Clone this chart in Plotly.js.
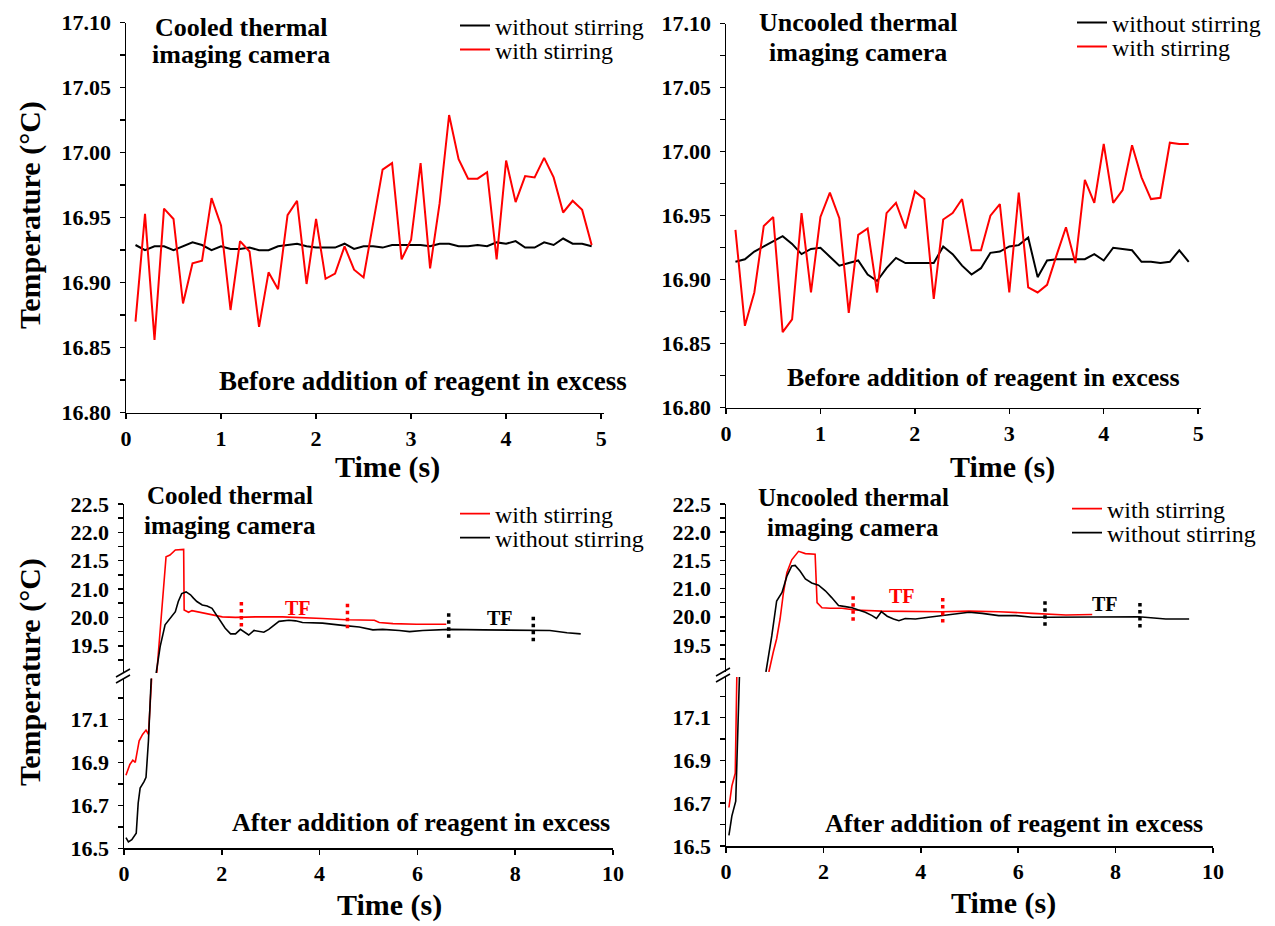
<!DOCTYPE html>
<html>
<head>
<meta charset="utf-8">
<script src="https://cdn.plot.ly/plotly-3.0.1.min.js"></script>
<style>html,body{margin:0;padding:0;background:#fff;}#chart{width:1275px;height:926px;}</style>
</head>
<body>
<div id="chart"></div>
<script>
// ---------- DATA ----------
// Before addition of reagent (time in s)
const timeBefore = [0.1,0.2,0.3,0.4,0.5,0.6,0.7,0.8,0.9,1.0,1.1,1.2,1.3,1.4,1.5,1.6,1.7,1.8,1.9,2.0,2.1,2.2,2.3,2.4,2.5,2.6,2.7,2.8,2.9,3.0,3.1,3.2,3.3,3.4,3.5,3.6,3.7,3.8,3.9,4.0,4.1,4.2,4.3,4.4,4.5,4.6,4.7,4.8,4.9];
const cooledBeforeStir = [16.870,16.953,16.856,16.957,16.949,16.884,16.915,16.917,16.965,16.944,16.879,16.932,16.924,16.866,16.908,16.895,16.952,16.963,16.899,16.949,16.903,16.907,16.928,16.910,16.904,16.947,16.987,16.992,16.918,16.933,16.992,16.911,16.961,17.029,16.995,16.980,16.980,16.985,16.918,16.994,16.962,16.982,16.981,16.996,16.981,16.954,16.963,16.956,16.929];
const cooledBeforeNoStir = [16.929,16.925,16.928,16.928,16.925,16.928,16.931,16.929,16.925,16.928,16.926,16.926,16.927,16.925,16.925,16.928,16.929,16.930,16.928,16.927,16.927,16.927,16.930,16.926,16.928,16.928,16.927,16.929,16.929,16.929,16.929,16.928,16.930,16.930,16.928,16.928,16.929,16.928,16.931,16.930,16.932,16.927,16.927,16.931,16.929,16.934,16.930,16.930,16.928];
const uncooledBeforeStir = [16.939,16.864,16.890,16.942,16.949,16.859,16.869,16.952,16.890,16.949,16.968,16.948,16.874,16.935,16.940,16.890,16.952,16.960,16.940,16.969,16.963,16.885,16.947,16.952,16.963,16.923,16.923,16.950,16.959,16.890,16.968,16.894,16.890,16.896,16.919,16.941,16.913,16.978,16.960,17.006,16.960,16.970,17.005,16.980,16.963,16.964,17.007,17.006,17.006];
const uncooledBeforeNoStir = [16.914,16.916,16.922,16.926,16.930,16.934,16.928,16.920,16.924,16.925,16.918,16.911,16.913,16.915,16.904,16.899,16.909,16.917,16.913,16.913,16.913,16.913,16.926,16.920,16.911,16.904,16.909,16.921,16.922,16.926,16.927,16.933,16.902,16.915,16.916,16.916,16.916,16.916,16.920,16.915,16.925,16.924,16.923,16.914,16.914,16.913,16.914,16.923,16.914];

// After addition of reagent in excess (values on the broken axis scale)
const cooledAfterStirT = [0.04,0.12,0.18,0.23,0.27,0.31,0.38,0.45,0.50,0.53,0.58,0.67,0.86,0.94,1.05,1.22,1.23,1.32,1.39,1.49,1.60,1.80,2.01,2.28,2.69,3.24,3.65,4.06,4.54,5.12,5.22,5.50,5.98,6.59];
const cooledAfterStirV = [16.84,16.89,16.91,16.90,16.95,17.00,17.03,17.05,17.03,17.12,17.35,19.52,21.57,21.60,21.69,21.70,20.63,20.59,20.62,20.60,20.58,20.55,20.51,20.50,20.51,20.51,20.50,20.48,20.46,20.45,20.41,20.39,20.38,20.38];
const cooledAfterNoStirT = [0.04,0.09,0.16,0.25,0.29,0.33,0.41,0.45,0.50,0.53,0.56,0.66,0.74,0.84,0.94,1.05,1.11,1.18,1.27,1.36,1.42,1.49,1.60,1.70,1.80,1.94,2.07,2.18,2.28,2.38,2.45,2.55,2.66,2.76,2.86,2.96,3.07,3.17,3.37,3.51,3.65,4.06,4.47,4.81,5.09,5.29,5.63,5.84,6.11,6.66,7.35,8.03,8.71,9.06,9.34];
const cooledAfterNoStirV = [16.55,16.53,16.54,16.57,16.71,16.78,16.81,16.83,17.00,17.29,17.45,19.53,19.99,20.37,20.49,20.60,20.78,20.92,20.95,20.90,20.84,20.78,20.72,20.70,20.66,20.49,20.31,20.21,20.21,20.29,20.25,20.19,20.27,20.25,20.24,20.29,20.37,20.43,20.45,20.44,20.41,20.40,20.36,20.33,20.28,20.29,20.27,20.25,20.27,20.29,20.28,20.27,20.27,20.23,20.21];
const uncooledAfterStirT = [0.06,0.12,0.19,0.23,0.88,0.97,1.04,1.11,1.18,1.25,1.35,1.49,1.63,1.83,1.87,1.97,2.14,2.38,2.65,3.20,3.89,4.44,4.99,5.60,6.29,6.98,7.52];
const uncooledAfterStirV = [16.68,16.78,16.84,17.40,19.52,19.87,20.11,20.46,20.93,21.28,21.51,21.66,21.62,21.61,20.75,20.66,20.65,20.65,20.62,20.60,20.59,20.59,20.60,20.59,20.56,20.53,20.54];
const uncooledAfterNoStirT = [0.06,0.12,0.20,0.26,0.29,0.82,0.94,1.04,1.15,1.25,1.35,1.42,1.52,1.63,1.76,1.90,2.04,2.17,2.31,2.45,2.59,2.72,2.86,3.00,3.09,3.19,3.31,3.44,3.55,3.68,3.89,4.16,4.44,4.71,4.99,5.26,5.60,5.95,6.29,6.63,7.32,8.00,8.48,9.03,9.51];
const uncooledAfterNoStirV = [16.55,16.64,16.71,17.25,17.40,19.52,20.16,20.78,20.93,21.22,21.40,21.41,21.31,21.17,21.10,21.06,20.96,20.84,20.70,20.68,20.66,20.62,20.58,20.52,20.47,20.59,20.51,20.46,20.43,20.47,20.46,20.49,20.52,20.56,20.58,20.56,20.52,20.52,20.49,20.49,20.49,20.49,20.50,20.46,20.46];

// Final temperature (TF) interval markers: time, lower and upper end
const tfCooledStirT = [2.40, 4.57];
const tfCooledStirLo = [20.34, 20.31];
const tfCooledStirHi = [20.78, 20.75];
const tfCooledNoStirT = [6.64, 8.37];
const tfCooledNoStirLo = [20.14, 20.08];
const tfCooledNoStirHi = [20.58, 20.52];
const tfUncooledStirT = [2.61, 4.45];
const tfUncooledStirLo = [20.43, 20.40];
const tfUncooledStirHi = [20.90, 20.87];
const tfUncooledNoStirT = [6.55, 8.50];
const tfUncooledNoStirLo = [20.34, 20.31];
const tfUncooledNoStirHi = [20.81, 20.78];

// Tick labels
const beforeTicks = [16.80, 16.85, 16.90, 16.95, 17.00, 17.05, 17.10];
const upperTickVals = [22.5, 22.0, 21.5, 21.0, 20.5, 20.0];
const upperTickText = ['22.5', '22.0', '21.5', '21.0', '20.0', '19.5'];
const lowerTickVals = [16.5, 16.7, 16.9, 17.1];

// ---------- LAYOUT HELPERS ----------
const W = 1275, H = 926;
const fx = p => p / W;
const fy = p => 1 - p / H;
const SERIF = 'Liberation Serif';
const RED = '#ff0000', BLACK = '#000000';
const tickFont = {family: SERIF, size: 22, color: '#000', weight: 'bold'};

function xAxis(d0, d1, range, dtick, anchor) {
  return {domain: [fx(d0), fx(d1)], range: range, anchor: anchor, dtick: dtick, tick0: 0,
    showline: true, linecolor: '#000', linewidth: 1.5, ticks: 'outside', ticklen: 5, tickwidth: 1.5,
    tickcolor: '#000', showgrid: false, zeroline: false, tickfont: tickFont, fixedrange: true};
}
function yAxis(top, bottom, range, anchor, extra) {
  return Object.assign({domain: [fy(bottom), fy(top)], range: range, anchor: anchor,
    showline: true, linecolor: '#000', linewidth: 1.5, ticks: 'outside', ticklen: 5, tickwidth: 1.5,
    tickcolor: '#000', showgrid: false, zeroline: false, tickfont: tickFont, ticklabelstandoff: 4, fixedrange: true}, extra);
}

const traces = [];
function line(x, y, color, xa, ya, name, legend, width) {
  traces.push({type: 'scatter', mode: 'lines', x: x, y: y, xaxis: xa, yaxis: ya,
    line: {color: color, width: width || 2}, name: name || '', showlegend: !!legend,
    legend: legend || 'legend', hoverinfo: 'skip'});
}
function tfMarks(ts, lo, hi, color, xa, ya) {
  ts.forEach((t, i) => {
    traces.push({type: 'scatter', mode: 'lines', x: [t, t], y: [lo[i], hi[i]], xaxis: xa, yaxis: ya,
      line: {color: color, width: 3.5, dash: 'dot'}, showlegend: false, hoverinfo: 'skip'});
  });
}

// Top-left: cooled, before
line(timeBefore, cooledBeforeNoStir, BLACK, 'x', 'y', 'without stirring', 'legend');
line(timeBefore, cooledBeforeStir, RED, 'x', 'y', 'with stirring', 'legend2');
// Top-right: uncooled, before
line(timeBefore, uncooledBeforeNoStir, BLACK, 'x2', 'y2', 'without stirring', 'legend3');
line(timeBefore, uncooledBeforeStir, RED, 'x2', 'y2', 'with stirring', 'legend4');
// Bottom-left: cooled, after (upper y3 and lower y4 share the same series)
line(cooledAfterStirT, cooledAfterStirV, RED, 'x3', 'y3', 'with stirring', 'legend5', 1.6);
line(cooledAfterNoStirT, cooledAfterNoStirV, BLACK, 'x3', 'y3', 'without stirring', 'legend6', 1.6);
line(cooledAfterStirT, cooledAfterStirV, RED, 'x3', 'y4', null, null, 1.6);
line(cooledAfterNoStirT, cooledAfterNoStirV, BLACK, 'x3', 'y4', null, null, 1.6);
tfMarks(tfCooledStirT, tfCooledStirLo, tfCooledStirHi, RED, 'x3', 'y3');
tfMarks(tfCooledNoStirT, tfCooledNoStirLo, tfCooledNoStirHi, BLACK, 'x3', 'y3');
// Bottom-right: uncooled, after
line(uncooledAfterStirT, uncooledAfterStirV, RED, 'x4', 'y5', 'with stirring', 'legend7', 1.6);
line(uncooledAfterNoStirT, uncooledAfterNoStirV, BLACK, 'x4', 'y5', 'without stirring', 'legend8', 1.6);
line(uncooledAfterStirT, uncooledAfterStirV, RED, 'x4', 'y6', null, null, 1.6);
line(uncooledAfterNoStirT, uncooledAfterNoStirV, BLACK, 'x4', 'y6', null, null, 1.6);
tfMarks(tfUncooledStirT, tfUncooledStirLo, tfUncooledStirHi, RED, 'x4', 'y5');
tfMarks(tfUncooledNoStirT, tfUncooledNoStirLo, tfUncooledNoStirHi, BLACK, 'x4', 'y5');

function legendAt(textStartPx, centerPy) {
  return {x: fx(textStartPx - 40), y: fy(centerPy), xanchor: 'left', yanchor: 'middle',
    bgcolor: 'rgba(0,0,0,0)', borderwidth: 0, font: {family: SERIF, size: 24, color: '#000'},
    tracegroupgap: 0, itemclick: false, itemdoubleclick: false};
}

const minorOut = (dtick, tick0) => ({dtick: dtick, tick0: tick0, ticks: 'outside', ticklen: 5, tickwidth: 1.5, tickcolor: '#000'});

const ann = [];
function txt(text, px, py, size, extra) {
  ann.push(Object.assign({text: text, x: fx(px), y: fy(py), xref: 'paper', yref: 'paper',
    xanchor: 'center', yanchor: 'middle', showarrow: false,
    font: {family: SERIF, size: size, color: '#000', weight: 'bold'}}, extra || {}));
}
function dtxt(text, x, y, xa, ya, color) {
  ann.push({text: text, x: x, y: y, xref: xa, yref: ya, xanchor: 'center', yanchor: 'middle',
    showarrow: false, font: {family: SERIF, size: 20, color: color, weight: 'bold'}});
}
txt('Cooled thermal', 241, 27, 26); txt('imaging camera', 241, 55, 26);
txt('Uncooled thermal', 858, 23, 26); txt('imaging camera', 858, 53, 26);
txt('Cooled thermal', 230, 495, 25); txt('imaging camera', 230, 525, 25);
txt('Uncooled thermal', 853, 497, 25); txt('imaging camera', 853, 527, 25);
txt('Before addition of reagent in excess', 423, 381, 27);
txt('Before addition of reagent in excess', 983, 377, 26);
txt('After addition of reagent in excess', 421, 822, 26);
txt('After addition of reagent in excess', 1014, 823, 26);
txt('Time (s)', 387, 467, 30); txt('Time (s)', 1002, 467, 30);
txt('Time (s)', 389, 905, 30); txt('Time (s)', 1003, 903, 30);
txt('Temperature (°C)', 30, 215, 30, {textangle: -90});
txt('Temperature (°C)', 30, 672, 30, {textangle: -90});
dtxt('TF', 3.55, 20.66, 'x3', 'y3', RED);
dtxt('TF', 7.69, 20.49, 'x3', 'y3', BLACK);
dtxt('TF', 3.61, 20.87, 'x4', 'y5', RED);
dtxt('TF', 7.78, 20.72, 'x4', 'y5', BLACK);

// axis-break marks
const shapes = [];
function brk(cx, cy) {
  [-3, 3].forEach(off => shapes.push({type: 'line', xref: 'paper', yref: 'paper',
    x0: fx(cx - 7), y0: fy(cy + off + 4), x1: fx(cx + 7), y1: fy(cy + off - 4),
    line: {color: '#000', width: 1.5}}));
}
brk(123, 676); brk(723, 675);

const layout = {
  width: W, height: H, margin: {l: 0, r: 0, t: 0, b: 0},
  paper_bgcolor: '#fff', plot_bgcolor: 'rgba(0,0,0,0)', showlegend: true,
  xaxis: xAxis(126, 604, [0, 5.03], 1, 'y'),
  yaxis: yAxis(22.7, 412.7, [16.8, 17.1], 'x', {tickvals: beforeTicks, tickformat: '.2f', minor: minorOut(0.025, 16.8)}),
  xaxis2: xAxis(726, 1201, [0, 5.03], 1, 'y2'),
  yaxis2: yAxis(23.7, 407.7, [16.8, 17.1], 'x2', {tickvals: beforeTicks, tickformat: '.2f', minor: minorOut(0.025, 16.8)}),
  xaxis3: xAxis(124, 613, [0, 10], 2, 'y4'),
  yaxis3: yAxis(504, 673, [19.52, 22.5], 'x3', {tickvals: upperTickVals, ticktext: upperTickText, minor: minorOut(0.25, 20)}),
  yaxis4: yAxis(678.5, 848.3, [16.5, 17.29], 'x3', {tickvals: lowerTickVals, tickformat: '.1f', minor: minorOut(0.1, 16.5)}),
  xaxis4: xAxis(726, 1213, [0, 10], 2, 'y6'),
  yaxis5: yAxis(504, 672, [19.52, 22.5], 'x4', {tickvals: upperTickVals, ticktext: upperTickText, minor: minorOut(0.25, 20)}),
  yaxis6: yAxis(677, 846, [16.5, 17.29], 'x4', {tickvals: lowerTickVals, tickformat: '.1f', minor: minorOut(0.1, 16.5)}),
  legend: legendAt(495, 26),
  legend2: legendAt(495, 50),
  legend3: legendAt(1112, 23),
  legend4: legendAt(1112, 47),
  legend5: legendAt(495, 514),
  legend6: legendAt(495, 538),
  legend7: legendAt(1107, 509),
  legend8: legendAt(1107, 533),
  annotations: ann,
  shapes: shapes
};

Plotly.newPlot('chart', traces, layout, {staticPlot: true, displayModeBar: false});
</script>
</body>
</html>
